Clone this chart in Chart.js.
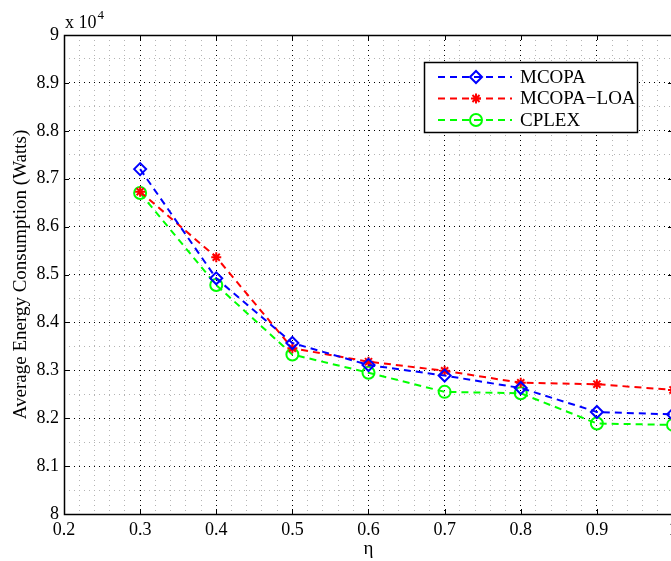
<!DOCTYPE html>
<html>
<head>
<meta charset="utf-8">
<script src="https://cdn.jsdelivr.net/npm/chart.js"></script>
<style>
  html, body { margin: 0; padding: 0; overflow: hidden; background: #fff; }
  #wrap { width: 690px; height: 561px; }
</style>
</head>
<body>
<div id="wrap"><canvas id="myChart" width="690" height="561"></canvas></div>
<script>
// values, y in units of 10^4 Watts
var eta = [0.3, 0.4, 0.5, 0.6, 0.7, 0.8, 0.9, 1.0];
var mcopa = [8.720, 8.492, 8.357, 8.311, 8.289, 8.263, 8.213, 8.208];
var mcopaLoa = [8.673, 8.536, 8.346, 8.318, 8.299, 8.274, 8.271, 8.259];
var cplex = [8.670, 8.478, 8.333, 8.295, 8.255, 8.252, 8.189, 8.186];

var xTicks = [0.2, 0.3, 0.4, 0.5, 0.6, 0.7, 0.8, 0.9, 1.0];
var yTicks = [8, 8.1, 8.2, 8.3, 8.4, 8.5, 8.6, 8.7, 8.8, 8.9, 9];

var serif = "'Liberation Serif', 'Times New Roman', serif";

function pts(ys) {
  return eta.map(function (x, i) { return { x: x, y: ys[i] }; });
}

function isMajor(v, step) {
  var k = v / step;
  return Math.abs(k - Math.round(k)) < 1e-6;
}

// box round the axes, inward tick marks, the x 10^4 note
var framePlugin = {
  id: 'frame',
  beforeDatasetsDraw: function (chart) {
    var a = chart.chartArea, ctx = chart.ctx;
    var xs = chart.scales.x, ys = chart.scales.y;
    ctx.save();
    ctx.strokeStyle = '#000';
    ctx.lineWidth = 1;
    ctx.setLineDash([]);
    ctx.beginPath();
    xTicks.forEach(function (v) {
      var px = Math.round(xs.getPixelForValue(v)) + 0.5;
      ctx.moveTo(px, a.bottom); ctx.lineTo(px, a.bottom - 5);
      ctx.moveTo(px, a.top); ctx.lineTo(px, a.top + 5);
    });
    yTicks.forEach(function (v) {
      var py = Math.round(ys.getPixelForValue(v)) + 0.5;
      ctx.moveTo(a.left, py); ctx.lineTo(a.left + 5, py);
      ctx.moveTo(a.right, py); ctx.lineTo(a.right - 5, py);
    });
    ctx.stroke();
    ctx.lineWidth = 1.5;
    ctx.strokeRect(Math.round(a.left) + 0.5, Math.round(a.top) + 0.5, Math.round(a.right - a.left), Math.round(a.bottom - a.top));
    ctx.restore();
  },
  afterDraw: function (chart) {
    var a = chart.chartArea, ctx = chart.ctx;
    ctx.save();
    ctx.fillStyle = '#000';
    ctx.textBaseline = 'alphabetic';
    ctx.font = '18px ' + serif;
    ctx.fillText('x 10', a.left + 1, a.top - 7);
    var w = ctx.measureText('x 10').width;
    ctx.font = '13px ' + serif;
    ctx.fillText('4', a.left + 2 + w, a.top - 16);
    ctx.restore();
  }
};

// MATLAB style legend: dashed line with the marker in the middle
var legendPlugin = {
  id: 'matlabLegend',
  afterDatasetsDraw: function (chart) {
    var a = chart.chartArea, ctx = chart.ctx;
    var right = a.right - 36, top = a.top + 27;
    var w = 213, h = 70;
    var left = right - w;
    ctx.save();
    ctx.fillStyle = '#fff';
    ctx.fillRect(left, top, w, h);
    ctx.strokeStyle = '#000';
    ctx.lineWidth = 1.5;
    ctx.strokeRect(left + 0.5, top + 0.5, w, h);
    chart.data.datasets.forEach(function (ds, i) {
      var y = top + 15 + i * 21.5;
      ctx.strokeStyle = ds.borderColor;
      ctx.lineWidth = ds.borderWidth;
      ctx.setLineDash(ds.borderDash);
      ctx.beginPath();
      ctx.moveTo(left + 14, y);
      ctx.lineTo(left + 88, y);
      ctx.stroke();
      ctx.setLineDash([]);
      ctx.fillStyle = 'rgba(0,0,0,0)';
      ctx.strokeStyle = ds.pointBorderColor;
      ctx.lineWidth = ds.pointBorderWidth;
      Chart.helpers.drawPoint(ctx, {
        pointStyle: ds.pointStyle, radius: ds.pointRadius, rotation: 0, borderWidth: ds.pointBorderWidth
      }, left + 52, y);
      ctx.fillStyle = '#000';
      ctx.font = '19px ' + serif;
      ctx.textBaseline = 'middle';
      ctx.fillText(ds.label, left + 96, y + 1);
    });
    ctx.restore();
  }
};

function series(label, data, color, style, radius) {
  return {
    label: label,
    data: pts(data),
    borderColor: color,
    backgroundColor: 'rgba(0,0,0,0)',
    borderWidth: 2,
    borderDash: [7, 5],
    pointStyle: style,
    pointRadius: radius,
    pointHoverRadius: radius,
    pointBorderColor: color,
    pointBackgroundColor: 'rgba(0,0,0,0)',
    pointBorderWidth: 2,
    tension: 0,
    fill: false,
    clip: false
  };
}

var ctx = document.getElementById('myChart').getContext('2d');
var chart = new Chart(ctx, {
  type: 'line',
  data: {
    datasets: [
      series('MCOPA', mcopa, '#0000ff', 'rectRot', 6),
      series('MCOPA\u2212LOA', mcopaLoa, '#ff0000', 'star', 5),
      series('CPLEX', cplex, '#00ff00', 'circle', 6)
    ]
  },
  options: {
    responsive: false,
    animation: false,
    devicePixelRatio: 1,
    layout: { padding: { top: 35, right: 17, left: 0, bottom: 0 } },
    plugins: { legend: { display: false }, tooltip: { enabled: false } },
    scales: {
      xMinor: {
        type: 'linear', position: 'bottom', min: 0.2, max: 1.0,
        ticks: { display: false, stepSize: 0.02 },
        grid: {
          drawTicks: false, lineWidth: 1,
          color: function (c) { return isMajor(c.tick.value, 0.1) ? 'rgba(0,0,0,0)' : '#b4b4b4'; }
        },
        border: { display: false, dash: [1, 4] },
        afterFit: function (s) { s.height = 0; }
      },
      yMinor: {
        type: 'linear', position: 'left', min: 8, max: 9,
        ticks: { display: false, stepSize: 0.05 },
        grid: {
          drawTicks: false, lineWidth: 1,
          color: function (c) { return isMajor(c.tick.value, 0.1) ? 'rgba(0,0,0,0)' : '#b4b4b4'; }
        },
        border: { display: false, dash: [1, 4] },
        afterFit: function (s) { s.width = 0; }
      },
      x: {
        type: 'linear', position: 'bottom', min: 0.2, max: 1.0,
        afterBuildTicks: function (s) { s.ticks = xTicks.map(function (v) { return { value: v }; }); },
        ticks: {
          color: '#000', padding: 5, maxRotation: 0, autoSkip: false,
          font: { family: serif, size: 18 },
          callback: function (v) { return String(Number(v.toFixed(1))); }
        },
        grid: { drawTicks: false, color: '#000', lineWidth: 1 },
        border: { display: false, dash: [1, 4] },
        title: { display: true, text: '\u03b7', color: '#000', font: { family: serif, size: 19 }, padding: { top: 0, bottom: 1 } },
        afterFit: function (s) { s.height = 47; }
      },
      y: {
        type: 'linear', position: 'left', min: 8, max: 9,
        afterBuildTicks: function (s) { s.ticks = yTicks.map(function (v) { return { value: v }; }); },
        ticks: {
          color: '#000', padding: 5, autoSkip: false,
          font: { family: serif, size: 18 },
          callback: function (v) { return String(Number(v.toFixed(1))); }
        },
        grid: { drawTicks: false, color: '#000', lineWidth: 1 },
        border: { display: false, dash: [1, 4] },
        title: { display: true, text: 'Average Energy Consumption (Watts)', color: '#000', font: { family: serif, size: 19 }, padding: { top: 10, bottom: 0 } },
        afterFit: function (s) { s.width = 64; }
      }
    }
  },
  plugins: [framePlugin, legendPlugin]
});
</script>
</body>
</html>
